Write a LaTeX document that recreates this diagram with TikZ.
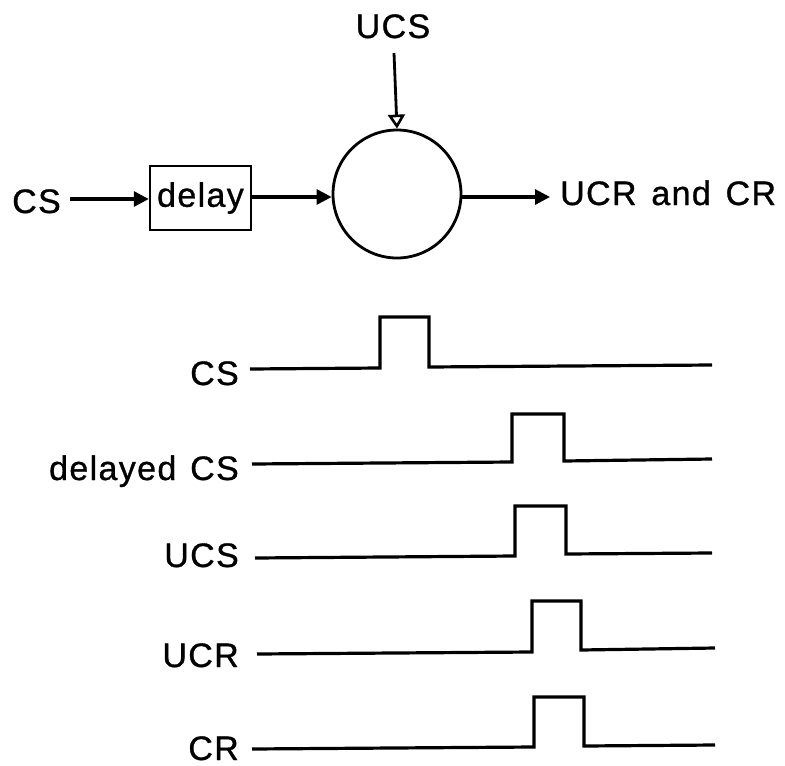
\documentclass[tikz,border=0pt]{standalone}
\usepackage{fontspec}
\setmainfont{Liberation Sans}
\newfontfamily\lblfont{Liberation Sans}[FakeBold=0.9,LetterSpace=4]
\usetikzlibrary{arrows.meta}
\begin{document}
\begin{tikzpicture}[x=1pt,y=-1pt,
  lbl/.style={inner sep=0pt,font=\lblfont\fontsize{34}{40}\selectfont},
  sig/.style={line width=3.2pt,line join=miter},
  farrow/.style={line width=3.2pt,-{Triangle[length=15pt,width=15pt]}},
  oarrow/.style={line width=2.8pt,-{Triangle[open,length=14pt,width=17pt,line width=2.6pt]}}]
\useasboundingbox (0,0) rectangle (785,766);
% top block diagram
\node[lbl,anchor=base east] (cs) at (61,213) {CS};
\node[draw,line width=2.4pt,minimum width=101pt,minimum height=64pt,inner sep=0pt,font=\lblfont\fontsize{34}{40}\selectfont] (delay) at (200.5,198) {delay};
\node[draw,circle,line width=2.8pt,minimum size=128pt,inner sep=0pt] (sum) at (397,194) {};
\node[lbl,anchor=base] (ucs) at (393,38) {UCS};
\node[lbl,anchor=base west] (out) at (560,205) {UCR\hspace{4pt} and\hspace{4pt} CR};
\coordinate (ucsStart) at (394,53);
\draw[farrow] (cs.east |- 0,199) ++(9,0) coordinate (csS) -- (delay.west |- csS);
\draw[farrow] (delay.east |- 0,197) -- (sum.west |- 0,197);
\draw[oarrow] (ucsStart) -- (sum.north);
\draw[farrow] (sum.east |- 0,197) -- ([xshift=-10pt]out.west |- 0,197);
% timing diagrams
\node[lbl,anchor=base east] (l1) at (239,385) {CS};
\node[lbl,anchor=base east] (l2) at (239,480) {delayed\hspace{3pt} CS};
\node[lbl,anchor=base east] (l3) at (239,567) {UCS};
\node[lbl,anchor=base east] (l4) at (239,667) {UCR};
\node[lbl,anchor=base east] (l5) at (239,760) {CR};
\draw[sig] (250,369) -- (380,368) -- (380,317) -- (429,317) -- (429,367) -- (712,365);
\draw[sig] (252,464) -- (512,462) -- (512,414) -- (564,414) -- (564,461) -- (712,459);
\draw[sig] (255,558) -- (515,556) -- (515,506) -- (566,506) -- (566,554) -- (712,553);
\draw[sig] (257,654) -- (532,652) -- (532,601) -- (581,601) -- (581,650) -- (715,648);
\draw[sig] (252,749) -- (534,747) -- (534,697) -- (584,697) -- (584,746) -- (715,745);
\end{tikzpicture}
\end{document}
